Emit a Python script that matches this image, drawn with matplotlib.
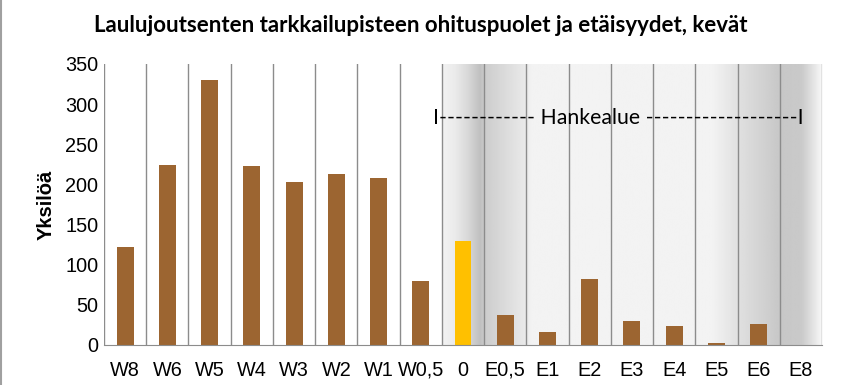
import numpy as np
import matplotlib.pyplot as plt

# data
categories = ['W8', 'W6', 'W5', 'W4', 'W3', 'W2', 'W1', 'W0,5', '0',
              'E0,5', 'E1', 'E2', 'E3', 'E4', 'E5', 'E6', 'E8']
counts = [122, 224, 330, 223, 203, 213, 208, 80, 129,
          37, 16, 82, 30, 24, 3, 26, 0]
highlight = '0'

brown = '#9C6531'
yellow = '#FFC000'

fig = plt.figure(figsize=(8.41, 3.85), dpi=100)
ax = fig.add_axes([0.1237, 0.1039, 0.8537, 0.7299])

n = len(categories)
x = np.arange(n)

# shaded background over the project area (decoration only)
start = categories.index(highlight) - 0.5
px = [7.5, 7.8, 8.1, 8.4, 8.5, 9.0, 9.5, 9.6, 13.9, 14.5, 15.5, 16.0, 16.3, 16.5]
shade = [0.95, 0.92, 0.85, 0.75, 0.80, 0.86, 0.92, 0.95, 0.95, 0.88, 0.78, 0.79, 0.90, 0.98]
xs = np.linspace(start, n - 0.5, 600)
grad = np.interp(xs, px, shade)[np.newaxis, :]
ax.imshow(grad, extent=[start, n - 0.5, 0, 350], aspect='auto', cmap='gray',
          vmin=0, vmax=1, zorder=0, interpolation='bilinear')

# vertical separators
for b in np.arange(-0.5, n, 1.0):
    ax.axvline(b, color='#8C8C8C', linewidth=1.0, zorder=1)

colors = [yellow if c == highlight else brown for c in categories]
ax.bar(x, counts, width=0.4, color=colors, zorder=2)

ax.set_xlim(-0.5, n - 0.5)
ax.set_ylim(0, 350)
ax.set_yticks(range(0, 351, 50))
ax.set_xticks(x)
ax.set_xticklabels(categories)
ax.tick_params(axis='both', length=0, labelsize=14.3)
for lbl in ax.get_xticklabels() + ax.get_yticklabels():
    lbl.set_fontfamily('Liberation Sans')
ax.tick_params(axis='x', pad=11.5)
ax.tick_params(axis='y', pad=4)

for s in ['top', 'left', 'right']:
    ax.spines[s].set_visible(False)
ax.spines['bottom'].set_color('#8C8C8C')

ax.set_ylabel('Yksilöä', fontsize=14.5, fontweight='bold', family='Liberation Sans',
              labelpad=7)

ax.text(7.3, 283, 'I------------ Hankealue -------------------I', fontsize=15.3,
        family='Lato', ha='left', va='center', zorder=3)

fig.text(0.5, 0.935, 'Laulujoutsenten tarkkailupisteen ohituspuolet ja etäisyydet, kevät',
         fontsize=16, fontweight='bold', family='Lato', ha='center', va='center')

# left border of the frame
fig.add_artist(plt.Line2D([0.001, 0.001], [0, 1], color='#A0A0A0', linewidth=1.5))

plt.savefig('out.png', dpi=100)
